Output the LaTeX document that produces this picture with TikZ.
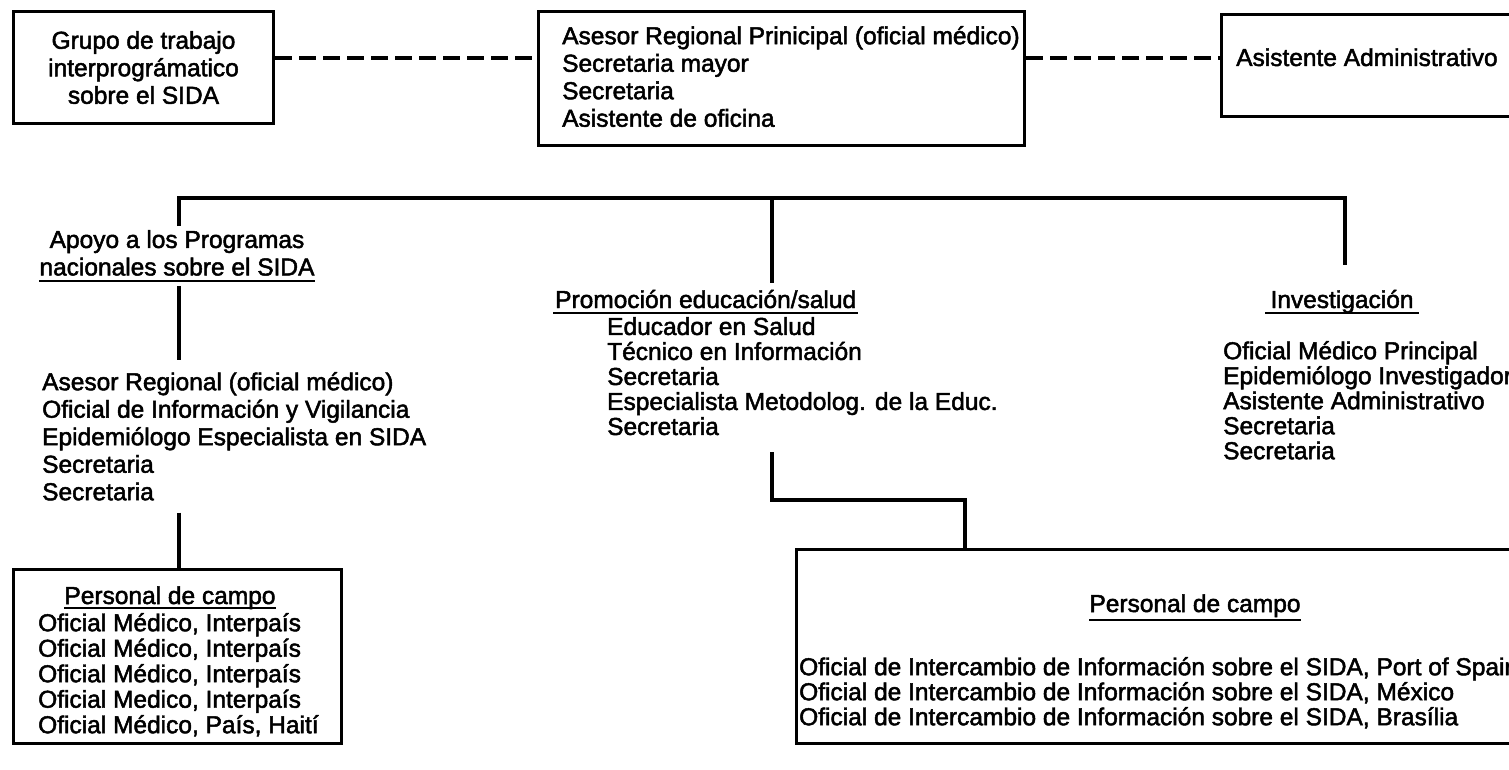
\documentclass[tikz,border=0pt]{standalone}
\usepackage{fontspec}
\setmainfont{Liberation Sans}[FakeBold=2]
\usetikzlibrary{calc}
\begin{document}
\begin{tikzpicture}[x=1pt,y=-1pt,
  every node/.style={font=\fontsize{24.5}{27.5}\selectfont, inner sep=0pt},
  box/.style={draw, line width=3pt, rectangle, anchor=north west},
  tree/.style={line width=4.5pt},
  dashline/.style={line width=4pt, dash pattern=on 17pt off 7pt},
  uline/.style={line width=2.5pt},
  conn/.style={line width=3.5pt},
  txt/.style={align=left, anchor=north west},
  list/.style={txt, font=\fontsize{24.5}{25.5}\selectfont}
]
\useasboundingbox (0,0) rectangle (1509,770);
\clip (0,0) rectangle (1509,770);

% ---------- top row ----------
\node[box, minimum width=260pt, minimum height=112pt, align=center] (grupo) at (12,10)
  {Grupo de trabajo\\interprográmatico\\sobre el SIDA};
\node[box, minimum width=486pt, minimum height=134pt] (cbox) at (537,10) {};
\node[txt] (ctext) at (562,26)
  {Asesor Regional Prinicipal (oficial médico)\\Secretaria mayor\\Secretaria\\Asistente de oficina};
\node[box, minimum width=300pt, minimum height=102pt] (abox) at (1220,13) {};
\node[anchor=base west] (atext) at (1236,66) {Asistente Administrativo};

\coordinate (dy) at (0,58);
\draw[dashline] (grupo.east |- dy) -- (cbox.west |- dy);
\draw[dashline] (cbox.east |- dy) -- (abox.west |- dy);

% ---------- tree ----------
\coordinate (tl) at (179,198);
\coordinate (tc) at (772,198);
\coordinate (tr) at (1345,198);

\node[align=center, anchor=north] (apoyo) at (177,230)
  {Apoyo a los Programas\\nacionales sobre el SIDA};
\node[anchor=base west] (promo) at (555,308) {Promoción educación/salud};
\node[anchor=base] (invest) at (1342,308) {Investigación};

\draw[tree] ($(tl |- apoyo.north)+(0,-4)$) -- (tl) -- (tr) -- ($(tr |- invest.north)+(0,-25)$);
\draw[tree] (tc) -- ($(tc |- promo.north)+(0,-7)$);

\draw[uline] ([yshift=-5pt]apoyo.south west) -- ([yshift=-5pt]apoyo.south east);
\draw[uline] ([xshift=-2pt,yshift=-5pt]promo.base west) -- ([xshift=2pt,yshift=-5pt]promo.base east);
\draw[uline] ([xshift=-5pt,yshift=-5pt]invest.base west) -- ([xshift=5pt,yshift=-5pt]invest.base east);

% ---------- left branch ----------
\node[txt] (leftlist) at (42,372)
  {Asesor Regional (oficial médico)\\Oficial de Información y Vigilancia\\Epidemiólogo Especialista en SIDA\\Secretaria\\Secretaria};
\draw[tree] ($(apoyo.south -| tl)+(0,10)$) -- ($(leftlist.north -| tl)+(0,-12)$);

\node[box, minimum width=328pt, minimum height=174pt] (lbox) at (12,568) {};
\draw[tree] ($(leftlist.south -| tl)+(0,12)$) -- (lbox.north -| tl);
\node[anchor=base] (lpers) at (170,604) {Personal de campo};
\draw[uline] ([yshift=-4pt]lpers.base west) -- ([yshift=-4pt]lpers.base east);
\node[list] (llist) at (38,613)
  {Oficial Médico, Interpaís\\Oficial Médico, Interpaís\\Oficial Médico, Interpaís\\Oficial Medico, Interpaís\\Oficial Médico, País, Haití};

% ---------- centre branch ----------
\node[list, font=\fontsize{24.5}{25}\selectfont] (plist) at (607,317)
  {Educador en Salud\\Técnico en Información\\Secretaria\\Especialista Metodolog. de la Educ.\\Secretaria};
\node[box, minimum width=725pt, minimum height=194pt] (rbox) at (795,548) {};
\coordinate (lc) at (965,500);
\draw[conn] ($(plist.south -| tc)+(0,17)$) -- (tc |- lc) -- (lc) -- (rbox.north -| lc);
\node[anchor=base] (rpers) at (1195,612) {Personal de campo};
\draw[uline] ([yshift=-8pt]rpers.base west) -- ([yshift=-8pt]rpers.base east);
\node[list, font=\fontsize{24.5}{25}\selectfont] (rlist) at (799,657)
  {Oficial de Intercambio de Información sobre el SIDA, Port of Spain\\Oficial de Intercambio de Información sobre el SIDA, México\\Oficial de Intercambio de Información sobre el SIDA, Brasília};

% ---------- right branch ----------
\node[list, font=\fontsize{24.5}{25}\selectfont] (ilist) at (1223,341)
  {Oficial Médico Principal\\Epidemiólogo Investigador\\Asistente Administrativo\\Secretaria\\Secretaria};
\end{tikzpicture}
\end{document}
